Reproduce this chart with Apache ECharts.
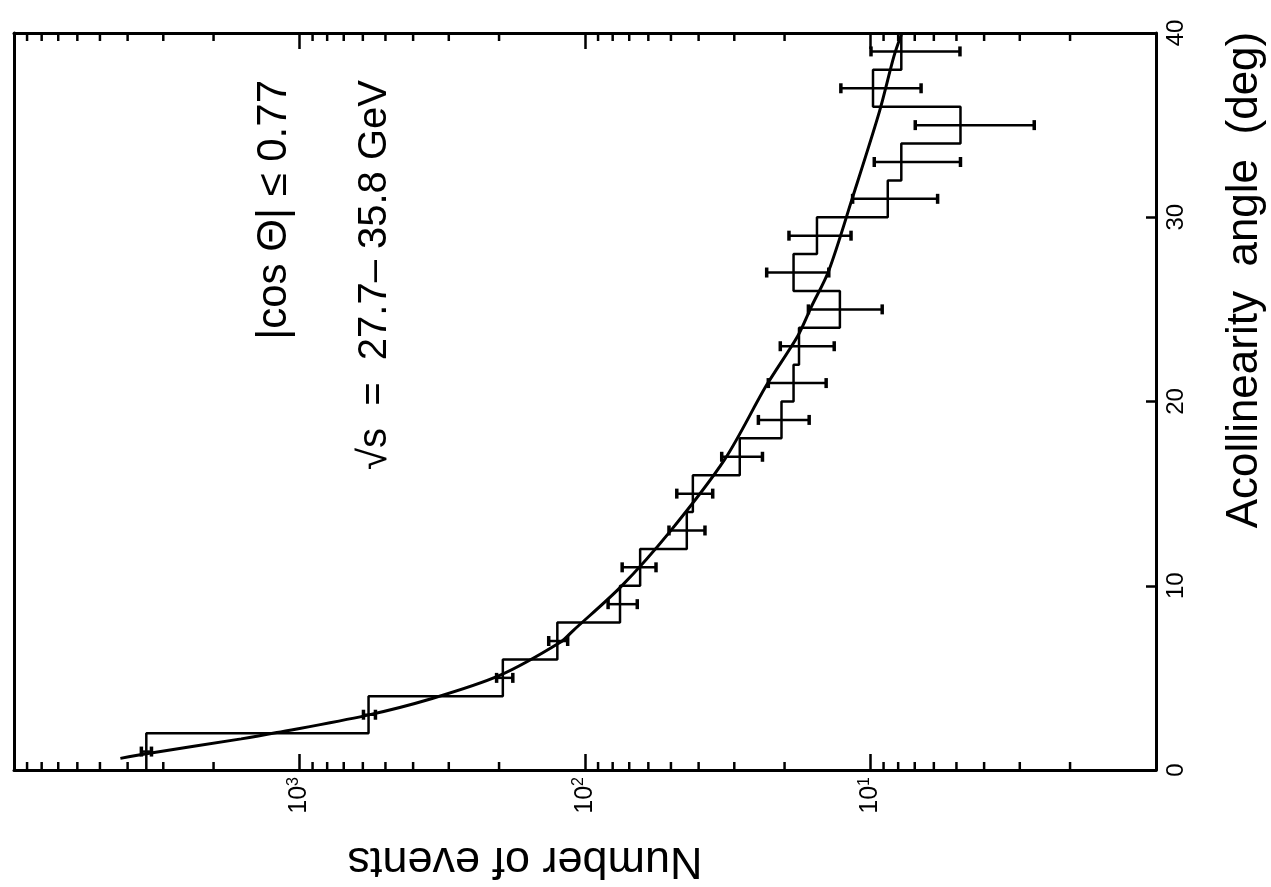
<!DOCTYPE html>
<html>
<head>
<meta charset="utf-8">
<script src="https://cdn.jsdelivr.net/npm/echarts@6/dist/echarts.min.js"></script>
<style>
html,body{margin:0;padding:0;background:#fff;}
#chart{width:1271px;height:887px;}
</style>
</head>
<body>
<div id="chart"></div>
<script>
// ---- data ----
// bin edges of the acollinearity angle histogram (deg)
const binEdges = [0,2,4,6,8,10,12,14,16,18,20,22,24,26,28,30,32,34,36,38,40];
// number of events per 2-degree bin
const histCounts = [3440, 573, 194, 125, 75.4, 64.1, 44, 41.9, 28.7, 20.5,
                    18.6, 17.8, 12.8, 18.6, 15.4, 8.7, 7.8, 4.84, 9.8, 7.8];
// error bar ends for each bin
const errLow  = [3300, 542, 179, 115, 65.6, 56.4, 38.0, 35.7, 23.9, 16.4,
                 14.3, 13.4, 9.1, 14.0, 11.7, 5.82, 4.84, 2.67, 6.65, 4.86];
const errHigh = [3580, 597, 204, 134, 83, 74.1, 50.8, 47.7, 33.2, 24.7,
                 22.8, 20.7, 16.5, 23.1, 19.3, 11.55, 9.7, 6.97, 12.7, 9.96];
// fitted curve
const curveAngle = [0.63, 0.88, 1.69, 2.03, 2.95, 3.88, 5.13, 6.93, 7.57, 9.98,
                    12.94, 16.86, 20.85, 23.54, 25.15, 27.1, 31.09, 35.75, 38.73, 39.9];
const curveValue = [4240, 3440, 1600, 1200, 587, 343, 199, 122, 110, 74.5,
                    50.4, 32.4, 23.2, 18.0, 16.1, 14.0, 11.55, 9.3, 8.28, 7.8];
// axis tick labels
const angleTicks = [0, 10, 20, 30, 40];
const logExponentLabels = {1: '1', 2: '2', 3: '3'};
const minorMultipliers = [2, 3, 4, 5, 6, 7, 8, 9];
const decades = [1, 10, 100, 1000];
// texts
const angleTitle = 'Acollinearity  angle  (deg)';
const countTitle = 'Number of events';
const note1 = '|cos \u0398| \u2264 0.77';
const note2 = '\u221As  =  27.7\u2013 35.8 GeV';

// ---- build series data from the arrays ----
const histLine = [];
for (let i = 0; i < histCounts.length; i++) {
  histLine.push([histCounts[i], binEdges[i]]);
  histLine.push([histCounts[i], binEdges[i + 1]]);
}
const errData = histCounts.map((v, i) => [errLow[i], errHigh[i], (binEdges[i] + binEdges[i + 1]) / 2]);
const curveData = curveAngle.map((a, i) => [curveValue[i], a]);
const minorTickValues = [];
decades.forEach(d => minorMultipliers.forEach(m => minorTickValues.push([d * m, 0])));

const FONT = 'Liberation Sans';
const chart = echarts.init(document.getElementById('chart'), null, {renderer: 'canvas'});

const logAxisCommon = {
  type: 'log', logBase: 10, min: 1, max: 10000, inverse: true,
  axisLine: {show: true, onZero: false, lineStyle: {color: '#000', width: 3}},
  axisTick: {show: true, inside: true, length: 16, lineStyle: {color: '#000', width: 2.5}},
  splitLine: {show: false}, minorTick: {show: false}
};

chart.setOption({
  animation: false,
  backgroundColor: '#fff',
  grid: {left: 14, right: 115, top: 33, bottom: 117, containLabel: false},
  xAxis: [
    Object.assign({}, logAxisCommon, {
      position: 'bottom',
      axisLabel: {
        show: true, rotate: 90, margin: 7, color: '#000',
        fontFamily: FONT, fontSize: 25,
        formatter: function (v) {
          const e = logExponentLabels[Math.round(Math.log10(v))];
          return e ? '{b|10}{s|' + e + '}' : '';
        },
        rich: {
          b: {fontFamily: FONT, fontSize: 25, lineHeight: 28, color: '#000'},
          s: {fontFamily: FONT, fontSize: 16, lineHeight: 16, verticalAlign: 'top', color: '#000'}
        }
      }
    }),
    Object.assign({}, logAxisCommon, {
      position: 'top',
      axisLabel: {show: false}
    })
  ],
  yAxis: [
    {
      type: 'value', min: 0, max: 40, interval: 10, position: 'right',
      axisLine: {show: true, onZero: false, lineStyle: {color: '#000', width: 3}},
      axisTick: {show: true, inside: true, length: 10, lineStyle: {color: '#000', width: 2.5}},
      axisLabel: {
        show: true, rotate: 90, margin: 8, color: '#000', fontFamily: FONT, fontSize: 24,
        formatter: v => angleTicks.indexOf(v) >= 0 ? String(v) : ''
      },
      splitLine: {show: false}
    },
    {
      type: 'value', min: 0, max: 40, interval: 10, position: 'left',
      axisLine: {show: true, onZero: false, lineStyle: {color: '#000', width: 3}},
      axisTick: {show: false}, axisLabel: {show: false}, splitLine: {show: false}
    }
  ],
  series: [
    {
      type: 'line', name: 'data', xAxisIndex: 0, yAxisIndex: 0,
      data: histLine, showSymbol: false, symbol: 'none',
      lineStyle: {color: '#000', width: 2.5}, z: 3
    },
    {
      type: 'line', name: 'fit', xAxisIndex: 0, yAxisIndex: 0,
      data: curveData, showSymbol: false, symbol: 'none', smooth: 0.3,
      lineStyle: {color: '#000', width: 3}, z: 4
    },
    {
      type: 'custom', name: 'errors', xAxisIndex: 0, yAxisIndex: 0,
      data: errData, z: 5,
      renderItem: function (params, api) {
        const a = api.coord([api.value(0), api.value(2)]);
        const b = api.coord([api.value(1), api.value(2)]);
        const st = {stroke: '#000', lineWidth: 2.5};
        const cap = 5;
        return {type: 'group', children: [
          {type: 'line', shape: {x1: a[0], y1: a[1], x2: b[0], y2: b[1]}, style: st},
          {type: 'line', shape: {x1: a[0], y1: a[1] - cap, x2: a[0], y2: a[1] + cap}, style: {stroke: '#000', lineWidth: 3.5}},
          {type: 'line', shape: {x1: b[0], y1: b[1] - cap, x2: b[0], y2: b[1] + cap}, style: {stroke: '#000', lineWidth: 3.5}}
        ]};
      }
    },
    {
      type: 'custom', name: 'minorTicks', xAxisIndex: 0, yAxisIndex: 0,
      data: minorTickValues, z: 2, clip: false,
      renderItem: function (params, api) {
        const bot = api.coord([api.value(0), 0]);
        const top = api.coord([api.value(0), 40]);
        const st = {stroke: '#000', lineWidth: 2.5};
        return {type: 'group', children: [
          {type: 'line', shape: {x1: bot[0], y1: bot[1], x2: bot[0], y2: bot[1] - 8}, style: st},
          {type: 'line', shape: {x1: top[0], y1: top[1], x2: top[0], y2: top[1] + 8}, style: st}
        ]};
      }
    }
  ],
  graphic: [
    {type: 'text', x: 1245, y: 280, rotation: Math.PI / 2,
     style: {text: angleTitle, font: '44px "' + FONT + '"', fill: '#000', align: 'center', verticalAlign: 'middle'}},
    {type: 'text', x: 525, y: 860, rotation: Math.PI,
     style: {text: countTitle, font: '45px "' + FONT + '"', fill: '#000', align: 'center', verticalAlign: 'middle'}},
    {type: 'text', x: 274, y: 80, rotation: Math.PI / 2,
     style: {text: note1, font: '42px "' + FONT + '"', fill: '#000', align: 'right', verticalAlign: 'middle'}},
    {type: 'text', x: 375, y: 80, rotation: Math.PI / 2,
     style: {text: note2, font: '40px "' + FONT + '"', fill: '#000', align: 'right', verticalAlign: 'middle'}}
  ]
});
</script>
</body>
</html>
